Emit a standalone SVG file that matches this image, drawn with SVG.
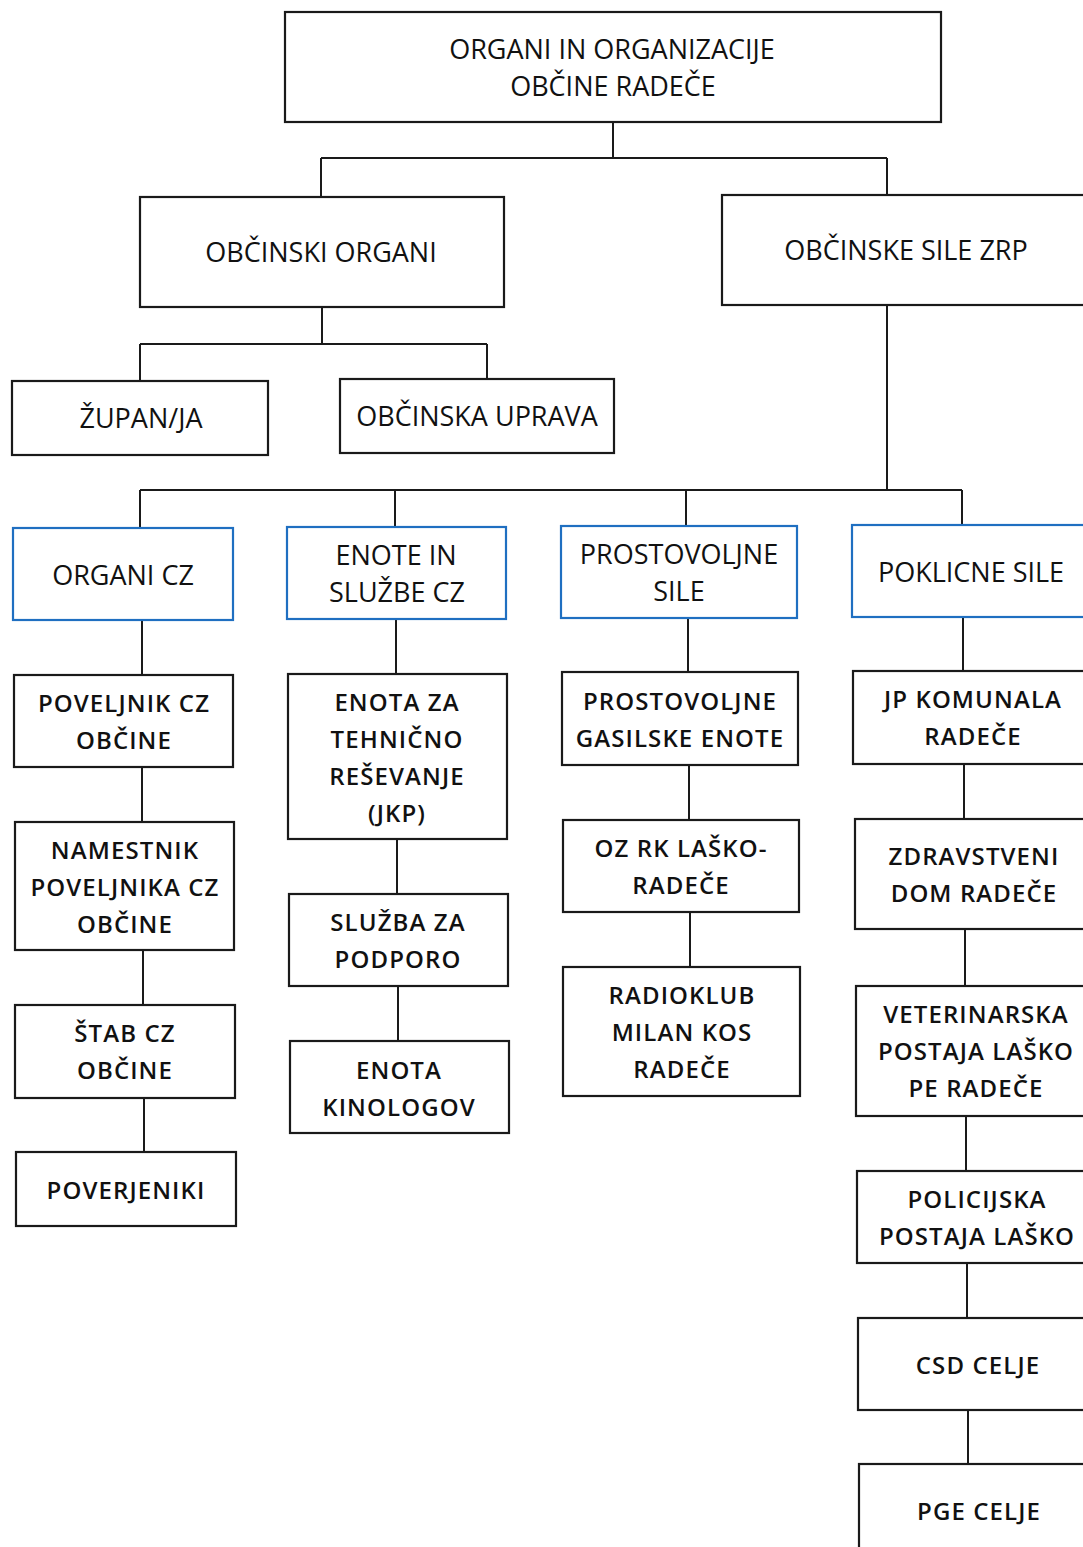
<svg xmlns="http://www.w3.org/2000/svg" width="1083" height="1547" viewBox="0 0 1083 1547">
<style>
.b{fill:#fff;stroke:#1a1a1a;stroke-width:2.2}
.u{fill:#fff;stroke:#1f6fc1;stroke-width:2.2}
text{font-family:"Open Sans","Noto Sans",sans-serif;font-size:24px;font-weight:600;letter-spacing:1.1px;fill:#111;text-anchor:middle}
.t{font-size:27px;font-weight:500;letter-spacing:0}
.c{fill:none;stroke:#1a1a1a;stroke-width:2}
</style>
<rect width="1083" height="1547" fill="#fff"/>
<g id="connectors">
<path class="c" d="M613 122V158M321 158H887M321 158V197M887 158V195"/>
<path class="c" d="M322 307V344M140 344H487M140 344V381M487 344V379"/>
<path class="c" d="M887 305V490M140 490H962M140 490V528M395 490V527M686 490V526M962 490V525"/>
<path class="c" d="M142 620V675M142 767V822M143 950V1005M144 1098V1152"/>
<path class="c" d="M396 619V674M397 839V894M398 986V1041"/>
<path class="c" d="M688 618V672M689 765V820M690 912V967"/>
<path class="c" d="M963 617V671M964 764V819M965 929V986M966 1116V1171M967 1263V1318M968 1410V1464"/>
</g>
<g id="n0"><rect class="b" x="285" y="12" width="656" height="110"/><text class="t" x="612" y="59">ORGANI IN ORGANIZACIJE</text><text class="t" x="613" y="96">OBČINE RADEČE</text></g>
<g id="n1"><rect class="b" x="140" y="197" width="364" height="110"/><text class="t" x="321" y="262">OBČINSKI ORGANI</text></g>
<g id="n2"><rect class="b" x="722" y="195" width="370" height="110"/><text class="t" x="906" y="260">OBČINSKE SILE ZRP</text></g>
<g id="n3"><rect class="b" x="12" y="381" width="256" height="74"/><text class="t" x="141" y="428">ŽUPAN/JA</text></g>
<g id="n4"><rect class="b" x="340" y="379" width="274" height="74"/><text class="t" x="477" y="426">OBČINSKA UPRAVA</text></g>
<g id="n5"><rect class="u" x="13" y="528" width="220" height="92"/><text class="t" x="123" y="585">ORGANI CZ</text></g>
<g id="n6"><rect class="u" x="287" y="527" width="219" height="92"/><text class="t" x="396" y="565">ENOTE IN</text><text class="t" x="397" y="602">SLUŽBE CZ</text></g>
<g id="n7"><rect class="u" x="561" y="526" width="236" height="92"/><text class="t" x="679" y="564">PROSTOVOLJNE</text><text class="t" x="679" y="601">SILE</text></g>
<g id="n8"><rect class="u" x="852" y="525" width="240" height="92"/><text class="t" x="971" y="582">POKLICNE SILE</text></g>
<g id="n9"><rect class="b" x="14" y="675" width="219" height="92"/><text x="124" y="712">POVELJNIK CZ</text><text x="124" y="749">OBČINE</text></g>
<g id="n10"><rect class="b" x="15" y="822" width="219" height="128"/><text x="125" y="859">NAMESTNIK</text><text x="125" y="896">POVELJNIKA CZ</text><text x="125" y="933">OBČINE</text></g>
<g id="n11"><rect class="b" x="15" y="1005" width="220" height="93"/><text x="125" y="1042">ŠTAB CZ</text><text x="125" y="1079">OBČINE</text></g>
<g id="n12"><rect class="b" x="16" y="1152" width="220" height="74"/><text x="126" y="1199">POVERJENIKI</text></g>
<g id="n13"><rect class="b" x="288" y="674" width="219" height="165"/><text x="397" y="711">ENOTA ZA</text><text x="397" y="748">TEHNIČNO</text><text x="397" y="785">REŠEVANJE</text><text x="397" y="822">(JKP)</text></g>
<g id="n14"><rect class="b" x="289" y="894" width="219" height="92"/><text x="398" y="931">SLUŽBA ZA</text><text x="398" y="968">PODPORO</text></g>
<g id="n15"><rect class="b" x="290" y="1041" width="219" height="92"/><text x="399" y="1079">ENOTA</text><text x="399" y="1116">KINOLOGOV</text></g>
<g id="n16"><rect class="b" x="562" y="672" width="236" height="93"/><text x="680" y="710">PROSTOVOLJNE</text><text x="680" y="747">GASILSKE ENOTE</text></g>
<g id="n17"><rect class="b" x="563" y="820" width="236" height="92"/><text x="681" y="857">OZ RK LAŠKO-</text><text x="681" y="894">RADEČE</text></g>
<g id="n18"><rect class="b" x="563" y="967" width="237" height="129"/><text x="682" y="1004">RADIOKLUB</text><text x="682" y="1041">MILAN KOS</text><text x="682" y="1078">RADEČE</text></g>
<g id="n19"><rect class="b" x="853" y="671" width="240" height="93"/><text x="973" y="708">JP KOMUNALA</text><text x="973" y="745">RADEČE</text></g>
<g id="n20"><rect class="b" x="855" y="819" width="238" height="110"/><text x="974" y="865">ZDRAVSTVENI</text><text x="974" y="902">DOM RADEČE</text></g>
<g id="n21"><rect class="b" x="856" y="986" width="237" height="130"/><text x="976" y="1023">VETERINARSKA</text><text x="976" y="1060">POSTAJA LAŠKO</text><text x="976" y="1097">PE RADEČE</text></g>
<g id="n22"><rect class="b" x="857" y="1171" width="236" height="92"/><text x="977" y="1208">POLICIJSKA</text><text x="977" y="1245">POSTAJA LAŠKO</text></g>
<g id="n23"><rect class="b" x="858" y="1318" width="235" height="92"/><text x="978" y="1374">CSD CELJE</text></g>
<g id="n24"><rect class="b" x="859" y="1464" width="234" height="100"/><text x="979" y="1520">PGE CELJE</text></g>
</svg>
